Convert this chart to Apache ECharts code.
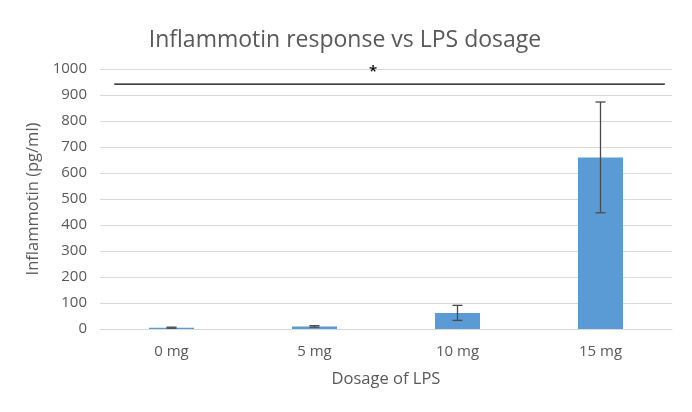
<!DOCTYPE html>
<html><head><meta charset="utf-8">
<script src="https://cdn.jsdelivr.net/npm/echarts@6/dist/echarts.min.js"></script>
<style>html,body{margin:0;padding:0;background:#fff}#c{width:692px;height:412px}</style>
</head><body><div id="c"></div>
<script>
const categories = ['0 mg', '5 mg', '10 mg', '15 mg'];
const values = [5, 10, 62, 660];
const errors = [2, 3, 29, 213];
const yTicks = [0, 100, 200, 300, 400, 500, 600, 700, 800, 900, 1000];
// significance bracket: [start, end] along category span (0..4), height value
const sigLine = [0.1, 3.95, 942];
const sigStar = [1.91, 988, '*'];

const chart = echarts.init(document.getElementById('c'));
const txt = '#595959';
const font = 'Open Sans';
chart.setOption({
  animation: false,
  title: {
    text: 'Inflammotin response vs LPS dosage',
    left: 340, top: 24, textAlign: 'center',
    textStyle: {fontFamily: font, fontSize: 23, fontWeight: 'normal', color: txt}
  },
  grid: {left: 100, right: 20, top: 69, bottom: 83, containLabel: false},
  xAxis: [{
    type: 'category', data: categories,
    axisLine: {lineStyle: {color: '#d9d9d9'}}, axisTick: {show: false},
    axisLabel: {color: txt, fontFamily: font, fontSize: 15, margin: 15},
    name: 'Dosage of LPS', nameLocation: 'middle', nameGap: 42,
    nameTextStyle: {color: txt, fontFamily: font, fontSize: 16.5}
  }, {
    type: 'value', min: 0, max: 4, show: false, position: 'bottom'
  }],
  yAxis: {
    type: 'value', min: yTicks[0], max: yTicks[yTicks.length - 1], interval: 100,
    axisLine: {show: false}, axisTick: {show: false},
    splitLine: {lineStyle: {color: '#d9d9d9', width: 1}},
    axisLabel: {color: txt, fontFamily: font, fontSize: 15, margin: 13,
      formatter: v => String(v)},
    name: 'Inflammotin (pg/ml)', nameLocation: 'middle', nameGap: 56, nameRotate: 90,
    nameTextStyle: {color: txt, fontFamily: font, fontSize: 16.5}
  },
  series: [{
    type: 'bar', data: values, barWidth: 45,
    itemStyle: {color: '#5b9bd5'}
  }, {
    type: 'custom', xAxisIndex: 0,
    data: values.map((v, i) => [i, v, errors[i]]),
    renderItem: function (params, api) {
      const i = api.value(0), v = api.value(1), e = api.value(2);
      const top = api.coord([i, v + e]);
      const bot = api.coord([i, v - e]);
      const w = 5;
      const st = {stroke: '#4a4a4a', lineWidth: 1.3};
      return {type: 'group', children: [
        {type: 'line', shape: {x1: top[0], y1: top[1], x2: bot[0], y2: bot[1]}, style: st},
        {type: 'line', shape: {x1: top[0] - w, y1: top[1], x2: top[0] + w, y2: top[1]}, style: st},
        {type: 'line', shape: {x1: bot[0] - w, y1: bot[1], x2: bot[0] + w, y2: bot[1]}, style: st}
      ]};
    },
    z: 5
  }, {
    type: 'custom', xAxisIndex: 1,
    data: [sigLine],
    renderItem: function (params, api) {
      const a = api.coord([api.value(0), api.value(2)]);
      const b = api.coord([api.value(1), api.value(2)]);
      return {type: 'line', shape: {x1: a[0], y1: a[1], x2: b[0], y2: b[1]},
        style: {stroke: '#000', lineWidth: 1.2}};
    }
  }, {
    type: 'custom', xAxisIndex: 1,
    data: [sigStar],
    renderItem: function (params, api) {
      const p = api.coord([api.value(0), api.value(1)]);
      return {type: 'text', x: p[0], y: p[1],
        style: {text: sigStar[2], fill: '#000', font: '600 15px "Open Sans"', align: 'center', verticalAlign: 'middle'}};
    }
  }]
});
</script></body></html>
